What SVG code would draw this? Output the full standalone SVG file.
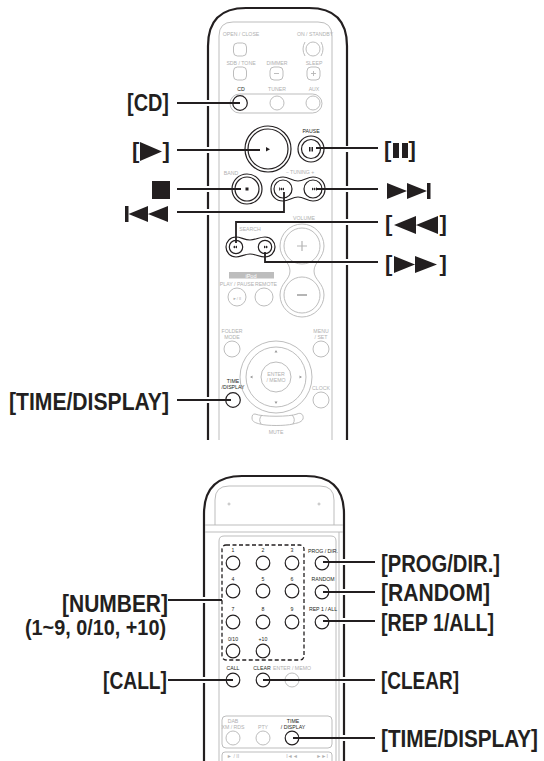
<svg xmlns="http://www.w3.org/2000/svg" width="544" height="761" viewBox="0 0 544 761">
<style>
.body{fill:none;stroke:#231f20;stroke-width:2.2}
.g{fill:none;stroke:#b5b5b5;stroke-width:.9}
.k{fill:#fff;stroke:#231f20;stroke-width:1.2}
.kn{fill:none;stroke:#231f20;stroke-width:1.2}
.c{fill:none;stroke:#231f20;stroke-width:1.8}
.h{fill:none;stroke:#fff;stroke-width:6}
.t{font-family:"Liberation Sans Narrow","Liberation Sans",Arial,sans-serif;font-size:5.2px;fill:#b0b0b0;text-anchor:middle}
.tk{font-family:"Liberation Sans Narrow","Liberation Sans",Arial,sans-serif;font-size:5.2px;fill:#231f20;text-anchor:middle}
.l{font-family:"Liberation Sans Narrow","Liberation Sans",Arial,sans-serif;font-weight:700;font-size:24px;fill:#231f20}
.b{font-family:"Liberation Sans Narrow","Liberation Sans",Arial,sans-serif;font-weight:700;font-size:22px;fill:#231f20}
.s{fill:#231f20}
</style>
<g id="remote-top">
<path class="body" d="M208 440V46Q208 8 246 8H309Q347 8 347 46V440"/>
<path class="g" d="M219 440V36Q219 22 233 22H318Q332 22 332 36V440"/>
<text class="t" x="241" y="36">OPEN / CLOSE</text><text class="t" x="315" y="36">ON / STANDBY</text>
<rect class="g" x="233.500" y="43" width="13" height="13" rx="4"/>
<circle class="g" cx="313" cy="49" r="7"/><path class="g" d="M305 42Q301 49 305 56M321 42Q325 49 321 56"/>
<text class="t" x="241" y="65">SDB / TONE</text><text class="t" x="277" y="65">DIMMER</text><text class="t" x="314" y="65">SLEEP</text>
<rect class="g" x="233.500" y="67" width="13" height="13" rx="4"/><rect class="g" x="270" y="67" width="13" height="13" rx="4"/><rect class="g" x="307" y="67" width="13" height="13" rx="4"/>
<path class="g" d="M274 73.500H279M311 73.500H316M313.500 71V76"/>
<text class="tk" x="241" y="90.500">CD</text><text class="t" x="277" y="90.500">TUNER</text><text class="t" x="314" y="90.500">AUX</text>
<rect class="g" x="230" y="94" width="92" height="19" rx="9.500"/>
<circle class="g" cx="277" cy="103" r="7"/><circle class="g" cx="313" cy="103" r="7"/>
<circle class="g" cx="237" cy="297" r="9"/><circle class="g" cx="264" cy="297" r="9"/>
<text class="t" x="231" y="175">BAND</text><text class="t" x="300" y="174">− TUNING +</text><text class="t" x="250" y="231">SEARCH</text><text class="t" x="304" y="220">VOLUME</text>
<path class="g" d="M302 224C290 224 280 234 280 246C280 258 290 262 290 271C290 280 280 283 280 295C280 307 290 317 302 317C314 317 324 307 324 295C324 283 314 280 314 271C314 262 324 258 324 246C324 234 314 224 302 224Z"/>
<circle class="g" cx="302" cy="246" r="18"/><circle class="g" cx="302" cy="295" r="18"/>
<path d="M297 246H307M302 241V251" fill="none" stroke="#b5b5b5" stroke-width="1.200"/><path d="M297 295H307" fill="none" stroke="#b5b5b5" stroke-width="2"/>
<rect x="229" y="272" width="45" height="6.500" fill="#bdbdbd"/><text x="251" y="277.500" font-family="Liberation Sans" font-size="5.600" fill="#fff" text-anchor="middle">iPod</text>
<text class="t" x="237" y="285.500">PLAY / PAUSE</text><text class="t" x="266" y="285.500">REMOTE</text>
<text class="t" x="237" y="299.500" style="font-size:4px">►/ II</text>
<text class="t" x="232" y="333">FOLDER</text><text class="t" x="232" y="339">MODE</text><text class="t" x="321" y="333">MENU</text><text class="t" x="321" y="339">/ SET</text>
<circle class="g" cx="232" cy="349" r="8"/><circle class="g" cx="321" cy="349" r="8"/>
<circle class="g" cx="276" cy="377" r="36"/><circle class="g" cx="276" cy="377" r="30"/><circle class="g" cx="276" cy="377" r="15"/>
<text class="t" x="276" y="376">ENTER</text><text class="t" x="276" y="382">/ MEMO</text>
<path d="M276 350l1.500 2.500h-3zM276 404l1.500 -2.500h-3zM250 377l2.500 -1.500v3zM302 377l-2.500 -1.500v3z" fill="#999"/>
<text class="tk" x="233" y="383">TIME</text><text class="tk" x="233" y="389">/DISPLAY</text>
<text class="t" x="321" y="390">CLOCK</text><circle class="g" cx="321" cy="400" r="8"/>
<path class="g" d="M255 414C262 417 290 417 297 414C301 412 304 415 303 419C301 423 296 423 293 424C285 426 267 426 260 424C256 423 252 422 252 418C252 415 253 414 255 414ZM262 415Q258 419 261 424M292 415Q296 419 293 424"/>
<text class="t" x="276" y="434">MUTE</text>
</g>
<g id="btn-cd"><circle class="k" cx="240" cy="103" r="7.300"/></g>
<g id="btn-play"><circle class="k" cx="268" cy="149" r="23"/><circle class="kn" cx="268" cy="149" r="20"/><path class="s" d="M266 147l4 2.200-4 2.200z"/></g>
<g id="btn-pause"><circle class="k" cx="311" cy="149" r="13"/><circle class="kn" cx="311" cy="149" r="9.500"/><path class="s" d="M309 147h1.500v4.500h-1.500zM311.500 147h1.500v4.500h-1.500z"/></g>
<text class="tk" x="311" y="133">PAUSE</text>
<g id="btn-stop"><circle class="k" cx="247" cy="189" r="15"/><circle class="kn" cx="247" cy="189" r="12"/><rect class="s" x="245.500" y="187.500" width="3" height="3"/></g>
<g id="btn-tuning"><path class="k" d="M283 177C289 177 292 181 298 181C304 181 307 177 313 177C320 177 325 182 325 189C325 196 320 201 313 201C307 201 304 197 298 197C292 197 289 201 283 201C276 201 271 196 271 189C271 182 276 177 283 177Z"/><circle class="kn" cx="283" cy="189" r="9"/><circle class="kn" cx="313" cy="189" r="9"/><path class="s" d="M279 187.500h.8v3h-.8zM280 189l2-1.500v3zM282 189l2-1.500v3zM317 187.500h-.8v3h.8zM316 189l-2-1.500v3zM314 189l-2-1.500v3z"/></g>
<g id="btn-search"><path class="k" d="M236 237C241 237 244 240 250 240C256 240 259 237 265 237C271 237 275 242 275 247C275 252 271 257 265 257C259 257 256 254 250 254C244 254 241 257 236 257C230 257 226 252 226 247C226 242 230 237 236 237Z"/><circle class="kn" cx="236" cy="247" r="6.700"/><circle class="kn" cx="265" cy="247" r="6.700"/><path class="s" d="M233 247l2-1.500v3zM235 247l2-1.500v3zM268 247l-2-1.500v3zM266 247l-2-1.500v3z"/></g>
<g id="btn-time"><circle class="k" cx="233" cy="400" r="7.300"/></g>
<g id="remote-bottom">
<path class="body" d="M204 761V514Q204 476 242 476H306Q344 476 344 514V761"/>
<path class="g" d="M215 525V500Q215 486 229 486H320Q334 486 334 500V525"/>
<path class="g" d="M205 525H343M205 532H343M219 761V541Q219 536 224 536H331Q336 536 336 541V761M339 532V761"/>
<circle class="g" cx="229" cy="504" r="1"/><circle class="g" cx="319" cy="504" r="1"/>
<rect x="222" y="545" width="82" height="115" rx="4" fill="none" stroke="#231f20" stroke-width="1.300" stroke-dasharray="4 2.500"/>
<text class="tk" x="233" y="552">1</text><text class="tk" x="263" y="552">2</text><text class="tk" x="292" y="552">3</text>
<text class="tk" x="233" y="581">4</text><text class="tk" x="263" y="581">5</text><text class="tk" x="292" y="581">6</text>
<text class="tk" x="233" y="611">7</text><text class="tk" x="263" y="611">8</text><text class="tk" x="292" y="611">9</text>
<text class="tk" x="233" y="641">0/10</text><text class="tk" x="263" y="641">+10</text>
<text class="tk" x="323" y="553">PROG / DIR.</text><text class="tk" x="323" y="581">RANDOM</text><text class="tk" x="323" y="611">REP 1 / ALL</text>
<text class="tk" x="233" y="670">CALL</text><text class="tk" x="262" y="670">CLEAR</text><text class="t" x="292" y="670">ENTER / MEMO</text>
<circle class="k" cx="233" cy="563" r="6.800"/><circle class="k" cx="263" cy="563" r="6.800"/><circle class="k" cx="292" cy="563" r="6.800"/>
<circle class="k" cx="233" cy="591" r="6.800"/><circle class="k" cx="263" cy="591" r="6.800"/><circle class="k" cx="292" cy="591" r="6.800"/>
<circle class="k" cx="233" cy="622" r="6.800"/><circle class="k" cx="263" cy="622" r="6.800"/><circle class="k" cx="292" cy="622" r="6.800"/>
<circle class="k" cx="233" cy="651" r="6.800"/><circle class="k" cx="263" cy="651" r="6.800"/>
<circle class="g" cx="292" cy="680" r="7"/>
<rect class="g" x="222" y="716" width="110" height="32" rx="4"/>
<text class="t" x="233" y="723">DAB</text><text class="t" x="233" y="729">XM / RDS</text><text class="t" x="263" y="729">PTY</text>
<text class="tk" x="293" y="723">TIME</text><text class="tk" x="293" y="729">/ DISPLAY</text>
<circle class="g" cx="233" cy="738" r="7"/><circle class="g" cx="263" cy="738" r="7"/>
<path class="g" d="M222 761V755Q222 752 225 752H329Q332 752 332 755V761"/>
<text class="t" x="233" y="758">► / II</text><text class="t" x="292" y="758">I◄◄</text><text class="t" x="322" y="758">►►I</text>
</g>
<g id="btn-prog"><circle class="k" cx="322" cy="563" r="6.800"/></g>
<g id="btn-random"><circle class="k" cx="322" cy="592" r="6.800"/></g>
<g id="btn-rep"><circle class="k" cx="322" cy="622" r="6.800"/></g>
<g id="btn-call"><circle class="k" cx="233" cy="680" r="6.800"/></g>
<g id="btn-clear"><circle class="k" cx="263" cy="680" r="6.800"/></g>
<g id="btn-time2"><circle class="k" cx="292" cy="738" r="6.800"/></g>
<g id="connectors">
<path class="h" d="M204 103H212M204 150H212M204 189H212M204 212H212M204 400H212M343 149H351M343 189H351M343 222H351M343 262H351M200 600H208M200 680H208M340 562H348M340 592H348M340 621H348M340 680H348M340 738H348"/>
<path class="c" d="M177 103H240M177 150H260M177 189H241M177 212H284V192M316 148H378M316 189H378M236 243V222H378M265 252V262H378M177 400H231"/>
<path class="c" d="M168 600H222M168 680H233M323 562H375M323 592H375M323 621H375M263 680H375M293 738H375"/>
</g>
<g id="label-cd"><text class="l" x="127" y="111" textLength="42" lengthAdjust="spacingAndGlyphs">[CD]</text></g>
<g id="label-play"><text class="b" x="132" y="157.500">[</text><text class="b" x="162.500" y="157.500">]</text><path class="s" d="M140 142L162 151.500L140 161Z"/></g>
<g id="label-stop"><rect class="s" x="152" y="181" width="18" height="18"/></g>
<g id="label-prev"><path class="s" d="M125 206H128.500V222H125ZM128.500 214L148 206V222ZM148 214L168 206V222Z"/></g>
<g id="label-time"><text class="l" x="9" y="410" textLength="160" lengthAdjust="spacingAndGlyphs">[TIME/DISPLAY]</text></g>
<g id="label-pause"><text class="b" x="384" y="156.500">[</text><text class="b" x="408.500" y="156.500">]</text><path class="s" d="M393 143H399V158H393ZM402 143H408V158H402Z"/></g>
<g id="label-next"><path class="s" d="M387 183L407 191V183L427 191V183H430.500V199H427V191L407 199V191L387 199Z"/></g>
<g id="label-rew"><text class="b" x="385" y="230.500">[</text><text class="b" x="439.500" y="230.500">]</text><path class="s" d="M394 225L416 216V234ZM416 225L438 216V234Z"/></g>
<g id="label-ff"><text class="b" x="385" y="270.500">[</text><text class="b" x="439.500" y="270.500">]</text><path class="s" d="M394 256L415 264.500L394 273ZM415 256L437 264.500L415 273Z"/></g>
<g id="label-number"><text class="l" x="62" y="612" textLength="106" lengthAdjust="spacingAndGlyphs">[NUMBER]</text><text class="b" x="25" y="635" textLength="141" lengthAdjust="spacingAndGlyphs">(1~9, 0/10, +10)</text></g>
<g id="label-call"><text class="l" x="103" y="689" textLength="64" lengthAdjust="spacingAndGlyphs">[CALL]</text></g>
<g id="label-prog"><text class="l" x="381" y="571.500" textLength="119" lengthAdjust="spacingAndGlyphs">[PROG/DIR.]</text></g>
<g id="label-random"><text class="l" x="381" y="601" textLength="109" lengthAdjust="spacingAndGlyphs">[RANDOM]</text></g>
<g id="label-rep"><text class="l" x="381" y="631" textLength="113" lengthAdjust="spacingAndGlyphs">[REP 1/ALL]</text></g>
<g id="label-clear"><text class="l" x="381" y="689" textLength="78" lengthAdjust="spacingAndGlyphs">[CLEAR]</text></g>
<g id="label-time2"><text class="l" transform="translate(381 747) scale(1 1.120)" textLength="157" lengthAdjust="spacingAndGlyphs" style="font-size:21px">[TIME/DISPLAY]</text></g>
</svg>
